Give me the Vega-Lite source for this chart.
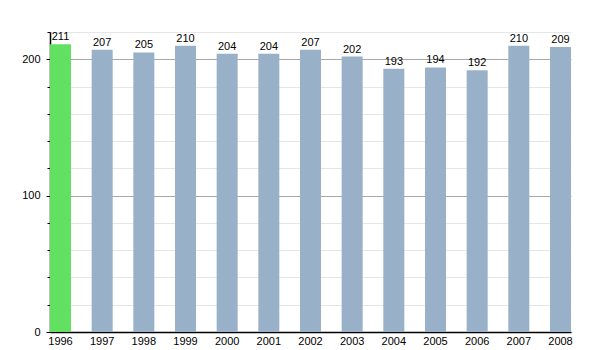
{
  "$schema": "https://vega.github.io/schema/vega-lite/v6.json",
  "width": 521,
  "height": 300,
  "autosize": {"type": "none"},
  "padding": {"left": 50, "top": 32, "right": 29, "bottom": 18},
  "background": "white",
  "config": {"view": {"stroke": null}, "font": "Liberation Sans"},
  "data": {"values": [
    {"year": "1996", "value": 211},
    {"year": "1997", "value": 207},
    {"year": "1998", "value": 205},
    {"year": "1999", "value": 210},
    {"year": "2000", "value": 204},
    {"year": "2001", "value": 204},
    {"year": "2002", "value": 207},
    {"year": "2003", "value": 202},
    {"year": "2004", "value": 193},
    {"year": "2005", "value": 194},
    {"year": "2006", "value": 192},
    {"year": "2007", "value": 210},
    {"year": "2008", "value": 209}
  ]},
  "encoding": {
    "x": {
      "field": "year", "type": "ordinal",
      "scale": {"paddingInner": 0.496, "paddingOuter": 0},
      "axis": {"title": null, "labelAngle": 0, "ticks": false, "domainColor": "black", "domainWidth": 1.5, "labelColor": "black", "labelFontSize": 11, "labelPadding": 3, "grid": false}
    },
    "y": {
      "field": "value", "type": "quantitative",
      "scale": {"domain": [0, 220], "nice": false},
      "axis": {
        "title": null,
        "values": [0, 20, 40, 60, 80, 100, 120, 140, 160, 180, 200, 220],
        "labelExpr": "datum.value % 100 === 0 ? datum.label : ''",
        "grid": true,
        "gridColor": {"condition": {"test": "datum.value % 100 === 0", "value": "#a8a8a8"}, "value": "#e6e6e6"},
        "tickColor": "black",
        "tickSize": {"condition": {"test": "datum.value % 100 === 0", "value": 4}, "value": 3},
        "domainColor": "black",
        "domainWidth": 1.5,
        "labelColor": "black",
        "labelFontSize": 11,
        "labelPadding": 6
      }
    }
  },
  "layer": [
    {
      "mark": {"type": "bar"},
      "encoding": {
        "color": {"condition": {"test": "datum.year === '1996'", "value": "#62e062"}, "value": "#99b0c9"}
      }
    },
    {
      "mark": {"type": "text", "dy": -7, "fontSize": 11, "color": "black"},
      "encoding": {"text": {"field": "value", "type": "quantitative"}}
    }
  ]
}
